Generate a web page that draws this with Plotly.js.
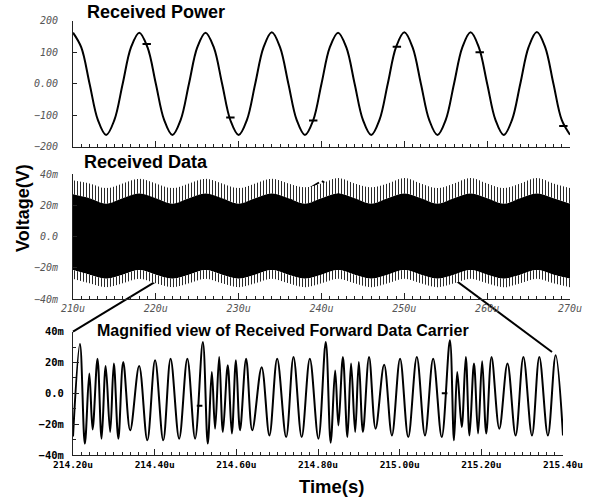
<!DOCTYPE html>
<html><head><meta charset="utf-8">
<script src="https://cdn.plot.ly/plotly-3.0.1.min.js"></script>
<style>html,body{margin:0;padding:0;background:#fff}#chart{width:595px;height:497px}</style>
</head><body><div id="chart"></div>
<script>
// ---- Received Power (top panel) ----
const powerTime = [210,211,212,213,214,215,216,217,218,219,220,221,222,223,224,225,226,227,228,229,230,231,232,233,234,235,236,237,238,239,240,
241,242,243,244,245,246,247,248,249,250,251,252,253,254,255,256,257,258,259,260,261,262,263,264,265,266,267,268,269,270];
const powerValue = [162,115,0,-115,-163,-115,0,115,162,115,0,-115,-163,-115,0,115,162,115,0,-116,-163,-115,0,115,163,115,0,-115,-163,-116,0,
115,162,115,0,-115,-163,-115,0,116,163,115,0,-115,-163,-115,0,115,163,115,0,-115,-163,-115,0,116,164,116,0,-115,-162];
const powerMarkTime = [218.9,229.0,239.0,249.1,259.1,269.2];
const powerMarkValue = [126,-107,-117,117,100,-134];

// ---- Received Data envelope (middle panel, mV) ----
const envTime = [210,212,214,216,218,220,222,224,226,228,230,232,234,236,238,240,242,244,246,248,250,252,254,256,258,260,262,264,266,268,270];
const envOuterTop = [36,34,31,34,37,34,31,34,37,34,31,34,37,34,31.5,34,37.5,34,31.5,34,37.5,34,31,34,37.5,34,31,34,37.5,34,31];
const envInnerTop = [27,24.5,21,24.5,27.5,24.5,21,24.5,27.5,24.5,21,24.5,27.5,24.5,21,24.5,27.5,24.5,21,24.5,27.5,24.5,21,24.5,27.5,24.5,21,24.5,27.5,24.5,21];
const envInnerBot = [-21.5,-24.5,-27,-24.5,-21.5,-24.5,-27,-24.5,-21.5,-24.5,-27,-24.5,-21.5,-24.5,-27,-24.5,-21.5,-24.5,-27,-24.5,-21.5,-24.5,-27,-24.5,-21.5,-24.5,-27,-24.5,-21.5,-24.5,-27];
const envOuterBot = [-27,-30,-32.5,-30,-27,-30,-32.5,-30,-27,-30,-32.5,-30,-27,-30,-32.5,-30,-27,-30,-32.5,-30,-27,-30,-32.5,-30,-27,-30,-32.5,-30,-27,-30,-32.5];

// ---- Magnified carrier (bottom panel, mV) ----
const carrierTime = [214.200,214.217,214.229,214.240,214.248,214.260,214.270,214.280,214.291,214.300,
214.311,214.323,214.340,214.362,214.382,214.401,214.421,214.439,214.460,214.480,
214.499,214.518,214.530,214.540,214.548,214.558,214.567,214.579,214.589,214.599,
214.609,214.624,214.639,214.662,214.681,214.700,214.722,214.740,214.760,214.780,
214.801,214.819,214.831,214.842,214.850,214.861,214.872,214.881,214.891,214.900,
214.910,214.925,214.941,214.962,214.981,215.001,215.021,215.042,215.062,215.082,
215.103,215.123,215.133,215.141,215.152,215.162,215.171,215.182,215.192,215.202,
215.212,215.225,215.244,215.264,215.284,215.303,215.324,215.342,215.363,215.382,215.400];
const carrierValue = [-28,32,-32.6,12.8,-23.4,22.5,-29.4,17.7,-25,19.3,
-29.4,20.3,-24,17.7,-30.5,21.4,-30.5,22.5,-29.4,22.5,
-29.4,33.3,-32.6,13.8,-22.9,23.6,-25,18.2,-26,21.4,
-24,22.5,-24,17,-27.3,22.5,-28.4,23.6,-28.4,22.5,
-29.4,33.3,-32,14.9,-20.8,23.6,-28.4,19.3,-25,20.3,
-25,23.6,-22.9,18.6,-27.3,22.5,-28.4,23.6,-27.3,22.5,
-28.4,34.4,-30.5,13.8,-21.9,23.6,-27.3,19.3,-26,20.8,
-26,23.6,-22.9,19.3,-27.3,23.6,-27.3,23.6,-27.3,24.7,-27.3];
const carrierMarkTime = [214.51,215.11];
const carrierMarkValue = [-8,0];

// ---- tick labels ----
const powerTickVals = [-200,-100,0,100,200];
const powerTickText = ['\u2212200','\u2212100','0.00','100','200'];
const voltTickVals = [-40,-20,0,20,40];
const voltTickText = ['\u221240m','\u221220m','0.0','20m','40m'];
const timeTickVals = [210,220,230,240,250,260,270];
const timeTickText = ['210u','220u','230u','240u','250u','260u','270u'];
const zoomTickVals = [214.2,214.4,214.6,214.8,215.0,215.2,215.4];
const zoomTickText = ['214.20u','214.40u','214.60u','214.80u','215.00u','215.20u','215.40u'];

const W = 595, H = 497;
const px = v => v / W;
const py = v => 1 - v / H;

const pat = {shape:'|', size:3, solidity:0.3, fgcolor:'#111', bgcolor:'#fff', fillmode:'replace'};
const noLine = {width:0, shape:'spline', color:'rgba(0,0,0,0)'};

const traces = [
  {x: powerTime, y: powerValue, xaxis:'x', yaxis:'y', mode:'lines', line:{color:'#000', width:2, shape:'spline', smoothing:1}, hoverinfo:'skip'},
  {x: powerMarkTime, y: powerMarkValue, xaxis:'x', yaxis:'y', mode:'markers', marker:{symbol:'line-ew-open', size:6, color:'#000', line:{width:2, color:'#000'}}, hoverinfo:'skip'},

  {x: envTime, y: envInnerTop, xaxis:'x2', yaxis:'y2', mode:'lines', line:noLine, hoverinfo:'skip'},
  {x: envTime, y: envOuterTop, xaxis:'x2', yaxis:'y2', mode:'lines', line:noLine, fill:'tonexty', fillcolor:'#fff', fillpattern:pat, hoverinfo:'skip'},
  {x: envTime, y: envInnerTop, xaxis:'x2', yaxis:'y2', mode:'lines', line:noLine, hoverinfo:'skip'},
  {x: envTime, y: envInnerBot, xaxis:'x2', yaxis:'y2', mode:'lines', line:noLine, fill:'tonexty', fillcolor:'#000', hoverinfo:'skip'},
  {x: envTime, y: envOuterBot, xaxis:'x2', yaxis:'y2', mode:'lines', line:noLine, fill:'tonexty', fillcolor:'#fff', fillpattern:pat, hoverinfo:'skip'},

  {x: carrierTime, y: carrierValue, xaxis:'x3', yaxis:'y3', mode:'lines', line:{color:'#000', width:2, shape:'spline', smoothing:1}, hoverinfo:'skip'},
  {x: carrierMarkTime, y: carrierMarkValue, xaxis:'x3', yaxis:'y3', mode:'markers', marker:{symbol:'line-ew-open', size:4, color:'#000', line:{width:2, color:'#000'}}, hoverinfo:'skip'}
];

const grayFont = {family:'DejaVu Sans Mono, monospace', size:10, color:'#555', style:'italic'};
const boldFont = {family:'DejaVu Sans Mono, monospace', size:9.5, color:'#000', weight:'bold'};
const base = {showgrid:false, zeroline:false, showline:true, linecolor:'#222', linewidth:1,
  ticks:'inside', tickcolor:'#222', ticklen:6, tickwidth:1, fixedrange:true};

const layout = {
  width: W, height: H,
  margin: {l:0, r:0, t:0, b:0},
  paper_bgcolor:'#fff', plot_bgcolor:'#fff',
  showlegend:false,
  xaxis: Object.assign({}, base, {domain:[px(73), px(570)], range:[210,270], anchor:'y',
    tickmode:'array', tickvals: timeTickVals, showticklabels:false,
    minor:{tickmode:'linear', tick0:210, dtick:1, ticks:'inside', ticklen:3, tickcolor:'#222'}}),
  yaxis: Object.assign({}, base, {domain:[py(146.7), py(20.7)], range:[-200,200], anchor:'x',
    tickmode:'array', tickvals: powerTickVals, ticktext: powerTickText, tickfont: grayFont, ticklabelstandoff: 12,
    ticklen:4}),
  xaxis2: Object.assign({}, base, {domain:[px(73), px(570)], range:[210,270], anchor:'y2',
    tickmode:'array', tickvals: timeTickVals, ticktext: timeTickText, tickfont: grayFont, ticklabelstandoff: 0,
    minor:{tickmode:'linear', tick0:210, dtick:1, ticks:'inside', ticklen:3, tickcolor:'#222'}}),
  yaxis2: Object.assign({}, base, {domain:[py(299), py(174)], range:[-40,40], anchor:'x2',
    tickmode:'array', tickvals: voltTickVals, ticktext: voltTickText, tickfont: grayFont, ticklabelstandoff: 12,
    ticklen:4}),
  xaxis3: Object.assign({}, base, {domain:[px(73), px(563)], range:[214.2,215.4], anchor:'y3',
    tickmode:'array', tickvals: zoomTickVals, ticktext: zoomTickText, tickfont: boldFont, ticklabelstandoff: 1,
    minor:{tickmode:'linear', tick0:214.2, dtick:0.02, ticks:'inside', ticklen:3, tickcolor:'#222'}}),
  yaxis3: Object.assign({}, base, {domain:[py(455), py(331.7)], range:[-40,40], anchor:'x3',
    tickmode:'array', tickvals: voltTickVals, ticktext: voltTickText, tickfont: Object.assign({}, boldFont, {size:10.5}), ticklabelstandoff: 6,
    minor:{tickmode:'linear', tick0:-40, dtick:10, ticks:'inside', ticklen:3, tickcolor:'#222'}}),
  shapes: [
    {type:'line', xref:'paper', yref:'paper', x0:px(73), y0:py(331.7), x1:px(319), y1:py(182.5), line:{color:'#000', width:2}, layer:'below'},
    {type:'line', xref:'paper', yref:'paper', x0:px(322), y0:py(181), x1:px(552), y1:py(352), line:{color:'#000', width:2}, layer:'below'}
  ],
  annotations: [
    {text:'Received Power', xref:'paper', yref:'paper', x:px(85), y:py(11.7), xanchor:'left', yanchor:'middle', showarrow:false,
      font:{family:'Liberation Sans, Arial, sans-serif', size:18, weight:'bold', color:'#000'}},
    {text:'Received Data', xref:'paper', yref:'paper', x:px(81.7), y:py(161.7), xanchor:'left', yanchor:'middle', showarrow:false,
      font:{family:'Liberation Sans, Arial, sans-serif', size:18, weight:'bold', color:'#000'}},
    {text:'Magnified view of Received Forward Data Carrier', xref:'paper', yref:'paper', x:px(95), y:py(330), xanchor:'left', yanchor:'middle', showarrow:false,
      font:{family:'Liberation Sans, Arial, sans-serif', size:16, weight:'bold', color:'#000'}},
    {text:'Voltage(V)', xref:'paper', yref:'paper', x:px(23), y:py(208), xanchor:'center', yanchor:'middle', textangle:-90, showarrow:false,
      font:{family:'Liberation Sans, Arial, sans-serif', size:18, weight:'bold', color:'#000'}},
    {text:'Time(s)', xref:'paper', yref:'paper', x:px(331), y:py(486), xanchor:'center', yanchor:'middle', showarrow:false,
      font:{family:'Liberation Sans, Arial, sans-serif', size:18.5, weight:'bold', color:'#000'}}
  ]
};

Plotly.newPlot('chart', traces, layout, {staticPlot:true, displayModeBar:false});
</script>
</body></html>
